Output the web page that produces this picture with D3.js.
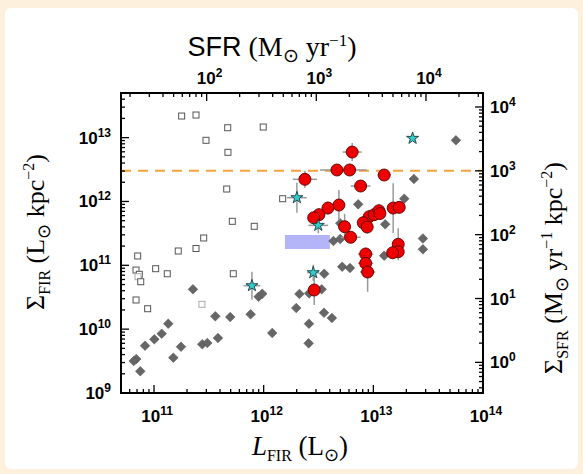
<!DOCTYPE html>
<html><head><meta charset="utf-8">
<script src="https://cdn.jsdelivr.net/npm/d3@7"></script>
<style>body{margin:0;background:#fdf0dc;} svg{display:block}</style>
</head><body>
<svg id="c" width="583" height="474"></svg>
<script>
// ---- data (log10 values) ----
const squareLogL = [11.252,11.383,11.474,11.672,11.996,11.674,11.663,12.173,11.714,11.914,11.453,11.383,11.221,10.851,11.015,11.121,10.836,10.866,10.854,10.879,11.723,10.836,10.942,11.437];
const squareLogS = [13.338,13.354,12.958,13.155,13.166,12.770,12.195,12.043,11.689,11.611,11.428,11.263,11.224,11.146,10.947,10.868,10.926,10.859,10.821,10.743,10.868,10.457,10.320,10.389];

const diamondLogL = [11.355,11.130,11.070,11.003,10.918,10.838,10.815,10.875,11.176,11.246,11.440,11.486,11.583,11.559,11.695,11.881,11.954,11.987,12.078,12.297,12.326,12.415,12.529,12.552,12.413,12.550,12.622,12.410,12.716,12.787,13.099,13.452,13.452,12.636,12.698,13.753,13.370,13.282,12.862,12.698,13.108];
const diamondLogS = [10.624,10.085,9.929,9.841,9.741,9.532,9.501,9.340,9.553,9.725,9.763,9.783,9.861,10.201,10.190,10.233,10.508,10.555,9.940,10.331,10.551,10.561,10.624,10.868,10.085,10.258,10.175,9.778,10.978,10.958,11.150,11.251,11.420,11.381,11.412,12.958,12.352,12.043,11.955,11.658,11.642];

const redLogL = [12.807,12.668,12.784,13.099,12.376,12.884,12.686,12.586,12.504,12.456,12.738,12.962,13.008,13.051,13.060,12.908,12.944,13.181,13.236,12.793,13.227,12.930,12.930,12.948,13.227,13.176,12.461];
const redLogS = [12.774,12.493,12.493,12.414,12.347,12.242,11.944,11.897,11.793,11.745,11.605,11.761,11.793,11.855,11.811,11.667,11.600,11.897,11.908,11.439,11.329,11.177,11.031,10.895,11.213,11.197,10.613];
const redErrL = [0.087,0.155,0.155,0.06,0.11,0.09,0.05,0.05,0.05,0.05,0.05,0.05,0.05,0.05,0.05,0.05,0.05,0.05,0.05,0.09,0.05,0.07,0.07,0.07,0.05,0.05,0.06];
const redErrS = [0.14,0.05,0.05,0.05,0.133,0.05,0.235,0.10,0.10,0.10,0.20,0.10,0.10,0.10,0.10,0.10,0.10,0.39,0.10,0.05,0.25,0.10,0.10,0.31,0.10,0.10,0.235];

const starLogL = [11.893,12.303,12.498,12.452,13.358];
const starLogS = [10.681,12.059,11.626,10.884,12.989];
const starErrL = [0.077,0.09,0.09,0.055,0];
const starErrS = [0.22,0.235,0.125,0.125,0];

const boxLogL = [12.194,12.604];
const boxLogS = [11.255,11.475];
const sfrLimit = 1e3;            // dashed line, Sigma_SFR
const sfrFactor = Math.pow(10,-9.48); // SFR = factor * L_FIR

const xDomain = [5e10,1e14], yDomain = [1e9,5e13];
const xTickExp = [11,12,13,14], yTickExp = [9,10,11,12,13];
const topTickExp = [2,3,4], rightTickExp = [0,1,2,3,4];

// ---- layout ----
const svg = d3.select("#c");
svg.append("rect").attr("x",5).attr("y",8).attr("width",573).attr("height",461).attr("rx",6).attr("fill","#fff");
const L=121,R=483,T=93,B=393;
const x = d3.scaleLog().domain(xDomain).range([L,R]);
const y = d3.scaleLog().domain(yDomain).range([B,T]);
const xt = d3.scaleLog().domain(xDomain.map(v=>v*sfrFactor)).range([L,R]);
const yr = d3.scaleLog().domain(yDomain.map(v=>v*sfrFactor)).range([B,T]);
const P = v=>Math.pow(10,v);

// box
svg.append("rect").attr("x",x(P(boxLogL[0]))).attr("width",x(P(boxLogL[1]))-x(P(boxLogL[0])))
  .attr("y",y(P(boxLogS[1]))).attr("height",y(P(boxLogS[0]))-y(P(boxLogS[1]))).attr("fill","#b4b4f8");

// squares
const sq = 6;
svg.append("g").selectAll("rect").data(squareLogL).join("rect")
  .attr("x",(d,i)=>x(P(d))-sq/2).attr("y",(d,i)=>y(P(squareLogS[i]))-sq/2)
  .attr("width",sq).attr("height",sq).attr("fill","#fff").attr("stroke",(d,i)=>(i==18||i==23)?"#aaa":"#555").attr("stroke-width",1);

// diamonds
const dm = 4.8;
svg.append("g").selectAll("path").data(diamondLogL).join("path")
  .attr("transform",(d,i)=>`translate(${x(P(d))},${y(P(diamondLogS[i]))})`)
  .attr("d",`M0,${-dm}L${dm},0L0,${dm}L${-dm},0Z`).attr("fill","#666").attr("stroke","#555").attr("stroke-width",0.6);

// dashed limit line
svg.append("line").attr("x1",L).attr("x2",R).attr("y1",yr(sfrLimit)).attr("y2",yr(sfrLimit))
  .attr("stroke","#f5a23c").attr("stroke-width",2).attr("stroke-dasharray","10,7");

// error bars
function errBars(ls, ss, el, es){
  const g = svg.append("g").attr("stroke","#999").attr("stroke-width",1.5);
  ls.forEach((l,i)=>{
    const cx=x(P(l)), cy=y(P(ss[i]));
    if(el[i]>0) g.append("line").attr("x1",x(P(l-el[i]))).attr("x2",x(P(l+el[i]))).attr("y1",cy).attr("y2",cy);
    if(es[i]>0) g.append("line").attr("x1",cx).attr("x2",cx).attr("y1",y(P(ss[i]-es[i]))).attr("y2",y(P(ss[i]+es[i])));
  });
}
errBars(redLogL,redLogS,redErrL,redErrS);
errBars(starLogL,starLogS,starErrL,starErrS);

// red circles
svg.append("g").selectAll("circle").data(redLogL).join("circle")
  .attr("cx",d=>x(P(d))).attr("cy",(d,i)=>y(P(redLogS[i]))).attr("r",6)
  .attr("fill","#ee0000").attr("stroke","#5a0000").attr("stroke-width",0.9);

// stars
const star = d3.symbol().type(d3.symbolStar).size(45);
svg.append("g").selectAll("path").data(starLogL).join("path")
  .attr("transform",(d,i)=>`translate(${x(P(d))},${y(P(starLogS[i]))})`)
  .attr("d",star).attr("fill","#33cccc").attr("stroke","#1a3a40").attr("stroke-width",0.9);

// frame
svg.append("rect").attr("x",L).attr("y",T).attr("width",R-L).attr("height",B-T)
  .attr("fill","none").attr("stroke","#000").attr("stroke-width",2);

// ticks
const tg = svg.append("g").attr("stroke","#000").attr("stroke-width",1.3);
function minorVals(domain){
  const out=[]; const a=Math.floor(Math.log10(domain[0])), b=Math.ceil(Math.log10(domain[1]));
  for(let e=a;e<=b;e++) for(let m=1;m<10;m++){const v=m*Math.pow(10,e); if(v>=domain[0]*0.999&&v<=domain[1]*1.001) out.push([v,m===1]);}
  return out;
}
minorVals(x.domain()).forEach(([v,maj])=>{const p=x(v),len=maj?8:4; tg.append("line").attr("x1",p).attr("x2",p).attr("y1",B).attr("y2",B-len);});
minorVals(xt.domain()).forEach(([v,maj])=>{const p=xt(v),len=maj?8:4; tg.append("line").attr("x1",p).attr("x2",p).attr("y1",T).attr("y2",T+len);});
minorVals(y.domain()).forEach(([v,maj])=>{const p=y(v),len=maj?8:4; tg.append("line").attr("y1",p).attr("y2",p).attr("x1",L).attr("x2",L+len);});
minorVals(yr.domain()).forEach(([v,maj])=>{const p=yr(v),len=maj?8:4; tg.append("line").attr("y1",p).attr("y2",p).attr("x1",R).attr("x2",R-len);});

// tick labels
const tf = "'Liberation Sans', Arial, sans-serif";
function pow10(g, px, py, e, anchor){
  const t = g.append("text").attr("x",px).attr("y",py).attr("text-anchor",anchor)
    .attr("font-family",tf).attr("font-weight","bold").attr("font-size",17).attr("fill","#000");
  t.append("tspan").text("10");
  t.append("tspan").attr("dy",-7).attr("font-size",12).text(e);
}
const lg = svg.append("g");
xTickExp.forEach(e=>pow10(lg, x(P(e))+3, 422, e, "middle"));
topTickExp.forEach(e=>pow10(lg, xt(P(e))+3, 84, e, "middle"));
yTickExp.forEach(e=>pow10(lg, 111, y(P(e))+6, e, "end"));
rightTickExp.forEach(e=>pow10(lg, 490, yr(P(e))+6, e, "start"));

// axis titles
const sf = "'Liberation Serif','Times New Roman',serif";
function title(parts, attrs, size){
  const t = svg.append("text").attr("font-family",sf).attr("font-size",size||26).attr("fill","#000");
  Object.entries(attrs).forEach(([k,v])=>t.attr(k,v));
  let cur=0;
  parts.forEach(p=>{
    const s=t.append("tspan").text(p.t);
    const off = p.sub?6:(p.sup?-10:0);
    if(off!==cur){ s.attr("dy",off-cur); cur=off; }
    if(p.sub||p.sup) s.attr("font-size",p.fs||16);
    if(p.it) s.attr("font-style","italic");
    if(p.sans) s.attr("font-family",tf).attr("font-size",p.fs);
  });
  return t;
}
title([{t:"L",it:true},{t:"FIR",sub:true},{t:" (L"},{t:"\u2299",sub:true,fs:18},{t:")"}],
  {x:300,y:455,"text-anchor":"middle"}, 27);
title([{t:"SFR",sans:true,fs:27},{t:" (M"},{t:"\u2299",sub:true,fs:19},{t:" yr"},{t:"\u22121",sup:true,fs:17},{t:")"}],
  {x:272,y:56,"text-anchor":"middle"}, 28);
title([{t:"\u03A3"},{t:"FIR",sub:true},{t:" (L"},{t:"\u2299",sub:true,fs:18},{t:" kpc"},{t:"\u22122",sup:true},{t:")"}],
  {transform:"translate(44,232) rotate(-90)","text-anchor":"middle"});
title([{t:"\u03A3"},{t:"SFR",sub:true},{t:" (M"},{t:"\u2299",sub:true,fs:18},{t:" yr"},{t:"\u22121",sup:true},{t:" kpc"},{t:"\u22122",sup:true},{t:")"}],
  {transform:"translate(562,268) rotate(-90)","text-anchor":"middle"});
</script>
</body></html>
